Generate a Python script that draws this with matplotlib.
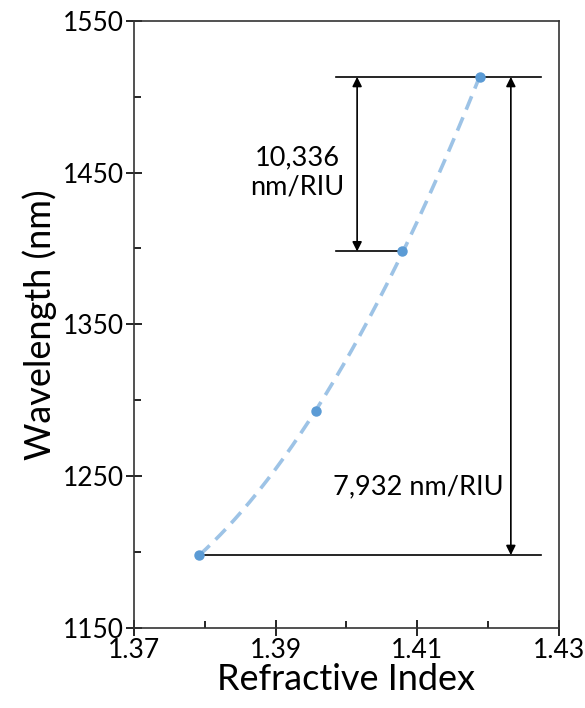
import numpy as np
import matplotlib.pyplot as plt
from matplotlib.ticker import MultipleLocator

plt.rcParams['font.family'] = ['Lato', 'DejaVu Sans']

# refractive index vs resonance wavelength
ri = [1.3792, 1.3957, 1.4079, 1.4188]
wl = [1198, 1293, 1398, 1513]

x_ticks = [1.37, 1.39, 1.41, 1.43]
y_ticks = [1150, 1250, 1350, 1450, 1550]

sens_small = "10,336\nnm/RIU"
sens_big = "7,932 nm/RIU"

fig = plt.figure(figsize=(5.85, 7.08), dpi=100)
ax = fig.add_axes([0.229, 0.113, 0.7266, 0.8578])

# quadratic trend line through the points (like excel)
c = np.polyfit(ri, wl, 2)
xf = np.linspace(ri[0], ri[-1], 200)
ax.plot(xf, np.polyval(c, xf), color='#9DC3E6', lw=2.6, dashes=(4, 2.3), zorder=2)
ax.plot(ri, wl, 'o', color='#5B9BD5', ms=6.5, zorder=3)

# guide lines
ax.plot([1.3985, 1.4275], [wl[3], wl[3]], color='black', lw=1.2)
ax.plot([1.3985, ri[2]], [wl[2], wl[2]], color='black', lw=1.2)
ax.plot([ri[0], 1.4275], [wl[0], wl[0]], color='black', lw=1.2)

arr = dict(arrowstyle='<|-|>', color='black', lw=1.2, mutation_scale=14, shrinkA=0, shrinkB=0)
ax.annotate('', xy=(1.4015, wl[3]), xytext=(1.4015, wl[2]), arrowprops=arr)
ax.annotate('', xy=(1.4232, wl[3]), xytext=(1.4232, wl[0]), arrowprops=arr)

ax.text(1.393, 1450, sens_small, ha='center', va='center', fontsize=19.5, linespacing=1.2)
ax.text(1.4102, 1243, sens_big, ha='center', va='center', fontsize=19.5)

ax.set_xlim(1.37, 1.43)
ax.set_ylim(1150, 1550)
ax.set_xticks(x_ticks)
ax.set_yticks(y_ticks)
ax.xaxis.set_minor_locator(MultipleLocator(0.01))
ax.yaxis.set_minor_locator(MultipleLocator(50))
ax.tick_params(which='major', direction='inout', length=11, width=1.2, labelsize=19, pad=2)
ax.tick_params(which='minor', direction='in', length=5, width=1.2)
for s in ax.spines.values():
    s.set_color('#333333')
    s.set_linewidth(1.2)

ax.set_xlabel('Refractive Index', fontsize=26, labelpad=0)
ax.set_ylabel('Wavelength (nm)', fontsize=26, labelpad=4)

fig.savefig('out.png', dpi=100)
